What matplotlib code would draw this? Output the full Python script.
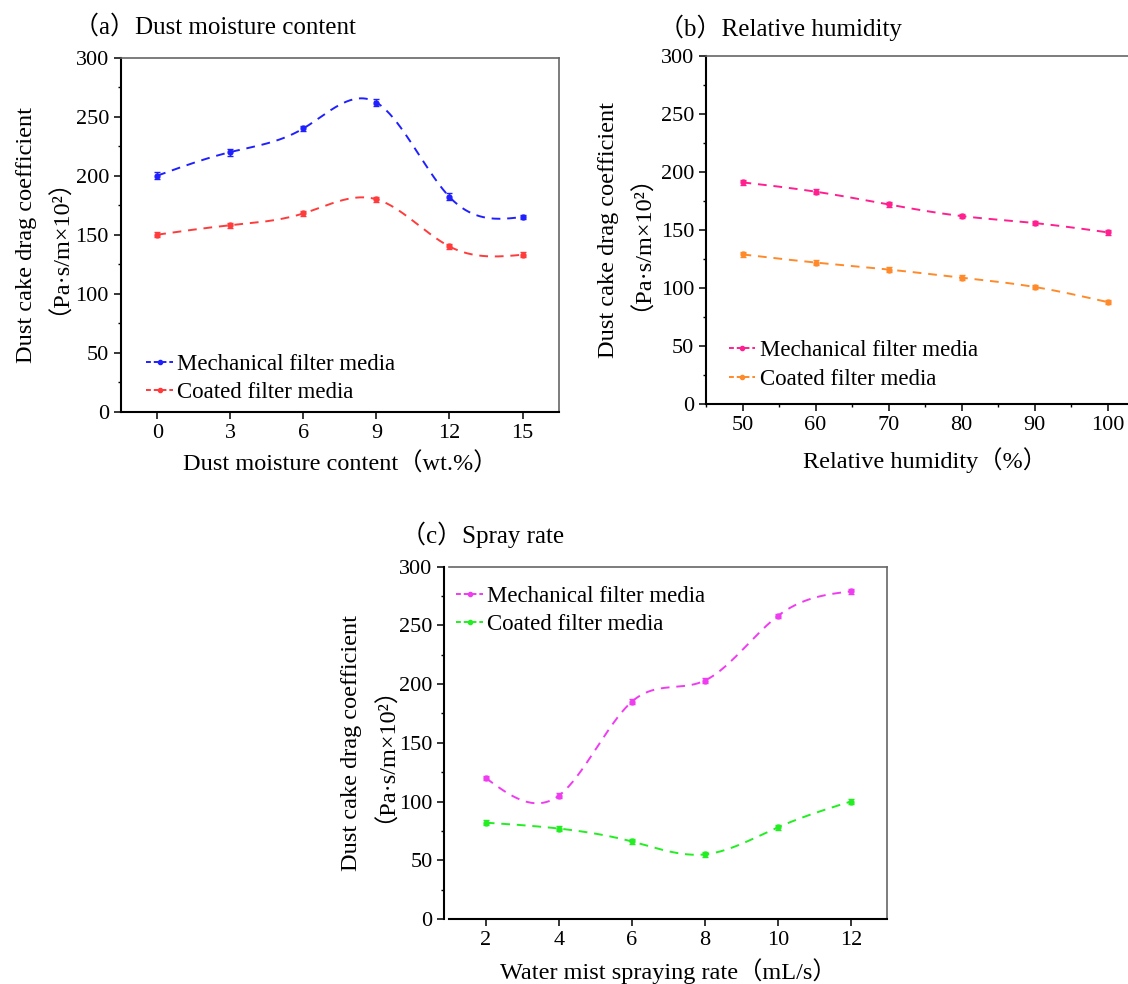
import numpy as np
import matplotlib
matplotlib.use('Agg')
import matplotlib.pyplot as plt
from matplotlib.ticker import MultipleLocator

plt.rcParams['font.family'] = ['Liberation Serif', 'Noto Sans CJK SC']

# (a) dust moisture content
moisture = [0, 3, 6, 9, 12, 15]
moisture_mech = [200, 220, 240, 262, 182, 165]
moisture_mech_err = [3, 3, 2, 3, 3, 2]
moisture_coat = [150, 158, 168, 180, 140, 133]
moisture_coat_err = [2, 2, 2, 2, 2, 2]

# (b) relative humidity
humidity = [50, 60, 70, 80, 90, 100]
humidity_mech = [191, 183, 172, 162, 156, 148]
humidity_mech_err = [2, 2, 2, 2, 2, 2]
humidity_coat = [129, 122, 116, 109, 101, 88]
humidity_coat_err = [2, 2, 2, 2, 2, 2]

# (c) spray rate
spray = [2, 4, 6, 8, 10, 12]
spray_mech = [120, 105, 185, 203, 258, 279]
spray_mech_err = [2, 2, 2, 2, 2, 2]
spray_coat = [82, 77, 66, 55, 78, 100]
spray_coat_err = [2, 2, 2, 2, 2, 2]

labels = ['Mechanical filter media', 'Coated filter media']
ylabel = 'Dust cake drag coefficient\n（Pa·s/m×10²）'


def spline(x, y, n=300):
    # natural cubic spline through the points
    x = np.asarray(x, float)
    y = np.asarray(y, float)
    h = np.diff(x)
    m = len(x)
    A = np.zeros((m, m))
    r = np.zeros(m)
    A[0, 0] = A[-1, -1] = 1
    for i in range(1, m - 1):
        A[i, i - 1] = h[i - 1]
        A[i, i] = 2 * (h[i - 1] + h[i])
        A[i, i + 1] = h[i]
        r[i] = 3 * ((y[i + 1] - y[i]) / h[i] - (y[i] - y[i - 1]) / h[i - 1])
    c = np.linalg.solve(A, r)
    b = (y[1:] - y[:-1]) / h - h * (2 * c[:-1] + c[1:]) / 3
    d = (c[1:] - c[:-1]) / (3 * h)
    xs = np.linspace(x[0], x[-1], n)
    idx = np.clip(np.searchsorted(x, xs) - 1, 0, m - 2)
    dx = xs - x[idx]
    ys = y[idx] + b[idx] * dx + c[idx] * dx ** 2 + d[idx] * dx ** 3
    return xs, ys


def draw_series(ax, x, y, err, color, label):
    xs, ys = spline(x, y)
    ax.plot(xs, ys, color=color, lw=1.4, linestyle=(0, (4.5, 3.5)))
    ax.errorbar(x, y, yerr=err, fmt='o', color=color, ms=3.5,
                capsize=2.5, elinewidth=1, capthick=1)
    # proxy for the legend: dashed line with a dot in the middle
    ax.plot([], [], color=color, lw=1.4, linestyle=(0, (2.5, 1.5)),
            marker='o', ms=3, label=label)


def style_axes(ax, xlim, xmajor, xminor=None):
    ax.set_xlim(*xlim)
    ax.set_ylim(0, 300)
    ax.xaxis.set_major_locator(MultipleLocator(xmajor))
    if xminor:
        ax.xaxis.set_minor_locator(MultipleLocator(xminor))
    ax.yaxis.set_major_locator(MultipleLocator(50))
    ax.yaxis.set_minor_locator(MultipleLocator(25))
    for s in ['left', 'bottom']:
        ax.spines[s].set_linewidth(1.5)
        ax.spines[s].set_color('black')
    for s in ['top', 'right']:
        ax.spines[s].set_linewidth(1.2)
        ax.spines[s].set_color('#666666')
    ax.tick_params(which='major', direction='out', length=5, width=1.1,
                   labelsize=16, top=False, right=False)
    ax.tick_params(which='minor', direction='out', length=2.5, width=1,
                   top=False, right=False)


fig = plt.figure(figsize=(11.28, 9.84), dpi=100)

ax1 = fig.add_axes([0.107, 0.5816, 0.3886, 0.3598])
ax2 = fig.add_axes([0.6259, 0.5891, 0.3883, 0.3543])
ax3 = fig.add_axes([0.3983, 0.0661, 0.3883, 0.358])

draw_series(ax1, moisture, moisture_mech, moisture_mech_err, '#2020ff', labels[0])
draw_series(ax1, moisture, moisture_coat, moisture_coat_err, '#ff3b3b', labels[1])
style_axes(ax1, (-1.5, 16.5), 3)
ax1.set_xlabel('Dust moisture content（wt.%）', fontsize=17.5)
ax1.xaxis.set_label_coords(0.5, -0.116)

draw_series(ax2, humidity, humidity_mech, humidity_mech_err, '#ff1f8f', labels[0])
draw_series(ax2, humidity, humidity_coat, humidity_coat_err, '#ff8a2a', labels[1])
style_axes(ax2, (45, 105), 10, 5)
ax2.set_xlabel('Relative humidity（%）', fontsize=17.5)
ax2.xaxis.set_label_coords(0.5, -0.124)

draw_series(ax3, spray, spray_mech, spray_mech_err, '#f03cf0', labels[0])
draw_series(ax3, spray, spray_coat, spray_coat_err, '#22ee22', labels[1])
style_axes(ax3, (1, 13), 2)
ax3.spines['left'].set_position(('outward', 3.5))
ax3.set_xlabel('Water mist spraying rate（mL/s）', fontsize=17.5)
ax3.xaxis.set_label_coords(0.5, -0.111)

for ax, lx, anchor in [(ax1, -0.141, (0.0586, 0.164)),
                       (ax2, -0.148, (0.0516, 0.184)),
                       (ax3, -0.148, (0.0164, 0.945))]:
    ax.set_ylabel(ylabel, fontsize=17.5, linespacing=0.95)
    ax.yaxis.set_label_coords(lx, 0.5)
    ax.legend(loc='upper left', bbox_to_anchor=anchor, frameon=False,
              fontsize=16.5, handlelength=1.15, handletextpad=0.2,
              labelspacing=0.32, borderpad=0, borderaxespad=0)

fig.text(74 / 1128, 1 - 27 / 984, '（a）Dust moisture content', fontsize=18, va='center')
fig.text(659 / 1128, 1 - 28 / 984, '（b）Relative humidity', fontsize=18, va='center')
fig.text(401 / 1128, 1 - 535 / 984, '（c）Spray rate', fontsize=18, va='center')

fig.savefig('out.png', dpi=100)
